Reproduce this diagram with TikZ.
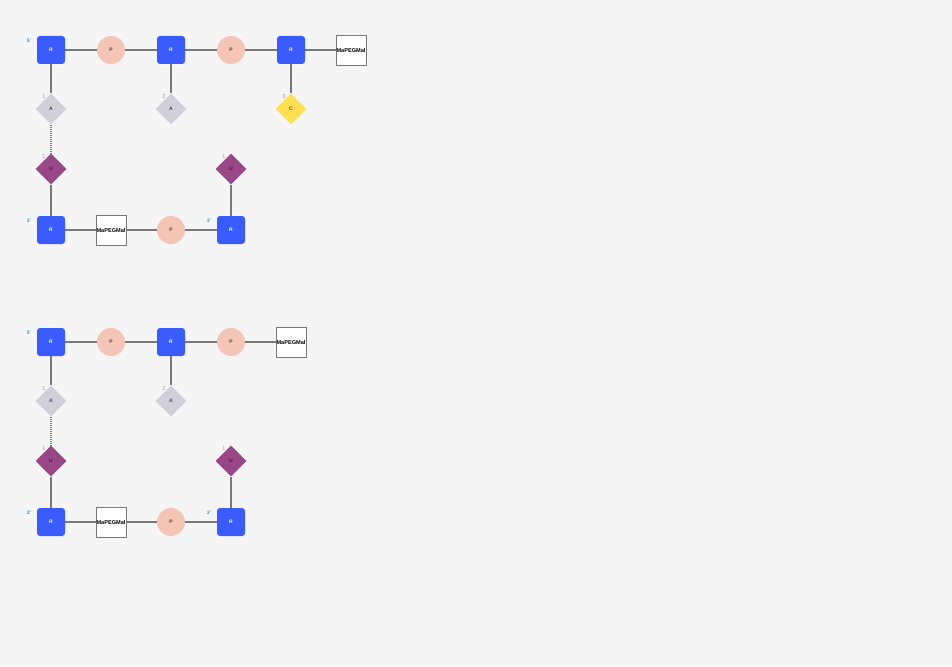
\documentclass[tikz,border=0pt]{standalone}
\usepackage{fontspec}
\setmainfont{Liberation Sans}
\usetikzlibrary{shapes.geometric}
\definecolor{PageGray}{RGB}{245,245,245}
\definecolor{RiboBlue}{RGB}{58,92,255}
\definecolor{PhosPink}{RGB}{244,196,180}
\definecolor{BaseGray}{RGB}{208,207,218}
\definecolor{BaseYellow}{RGB}{255,224,80}
\definecolor{BasePurple}{RGB}{154,71,136}
\definecolor{BondGray}{RGB}{120,120,120}
\definecolor{EndTeal}{RGB}{40,160,176}
\definecolor{IdxGray}{RGB}{150,150,150}
\tikzset{
  tiny/.style={font=\fontsize{5}{6}\selectfont\bfseries},
  ribose/.style={rectangle,rounded corners=3pt,fill=RiboBlue,text=white,tiny,minimum size=28pt,inner sep=0pt},
  phos/.style={circle,fill=PhosPink,text=black!70,tiny,minimum size=28pt,inner sep=0pt},
  linker/.style={rectangle,draw=BondGray,thick,fill=white,text=black,font=\fontsize{5.6}{6}\selectfont\bfseries,minimum size=30pt,inner sep=0pt},
  base/.style={diamond,aspect=1,text=black!70,tiny,minimum size=31pt,inner sep=0pt},
  baseA/.style={base,fill=BaseGray},
  baseC/.style={base,fill=BaseYellow},
  baseU/.style={base,fill=BasePurple,text=black!85},
  idx/.style={font=\fontsize{5.5}{6}\selectfont,text=IdxGray,inner sep=0pt},
  endlbl/.style={font=\fontsize{5}{6}\selectfont\bfseries,text=EndTeal,inner sep=0pt},
  bond/.style={draw=BondGray,line width=1.1pt},
  dotbond/.style={draw=BondGray,line width=1.1pt,dash pattern=on 1pt off 1pt}
}
\begin{document}
\begin{tikzpicture}[x=1pt,y=-1pt]
  \fill[PageGray] (0,0) rectangle (952,666);
  \useasboundingbox (0,0) rectangle (952,666);
  % first strand pair
  \draw[bond] (51,50) -- (351,50);
  \node[ribose] (r1) at (51,50) {R};
  \node[phos] (p1) at (111,50) {P};
  \node[ribose] (r2) at (171,50) {R};
  \node[phos] (p2) at (231,50) {P};
  \node[ribose] (r3) at (291,50) {R};
  \node[linker] (l1) at (351,50) {MaPEGMal};
  \node[baseA] (a1) at (51,109) {A};
  \node[baseA] (a2) at (171,109) {A};
  \node[baseC] (c3) at (291,109) {C};
  \node[baseU] (u1) at (51,169) {U};
  \node[baseU] (u2) at (231,169) {U};
  \node[ribose] (r4) at (51,230) {R};
  \node[linker] (l2) at (111,230) {MaPEGMal};
  \node[phos] (p3) at (171,230) {P};
  \node[ribose] (r5) at (231,230) {R};
  \draw[bond] (r1) -- (a1);
  \draw[bond] (r2) -- (a2);
  \draw[bond] (r3) -- (c3);
  \draw[dotbond] (a1) -- (u1);
  \draw[bond] (u1) -- (r4);
  \draw[bond] (u2) -- (r5);
  \draw[bond] (r4) -- (l2);
  \draw[bond] (l2) -- (p3);
  \draw[bond] (p3) -- (r5);
  \node[endlbl] (e1) at (29,41) {5'};
  \node[endlbl] (e2) at (29,221) {3'};
  \node[endlbl] (e3) at (209,221) {3'};
  \node[idx] at (44,97) {1};
  \node[idx] at (164,97) {2};
  \node[idx] at (284,97) {3};
  \node[idx] at (44,157) {1};
  \node[idx] at (224,157) {1};
  % second strand pair
  \draw[bond] (51,342) -- (291,342);
  \node[ribose] (br1) at (51,342) {R};
  \node[phos] (bp1) at (111,342) {P};
  \node[ribose] (br2) at (171,342) {R};
  \node[phos] (bp2) at (231,342) {P};
  \node[linker] (bl1) at (291,342) {MaPEGMal};
  \node[baseA] (ba1) at (51,401) {A};
  \node[baseA] (ba2) at (171,401) {A};
  \node[baseU] (bu1) at (51,461) {U};
  \node[baseU] (bu2) at (231,461) {U};
  \node[ribose] (br4) at (51,522) {R};
  \node[linker] (bl2) at (111,522) {MaPEGMal};
  \node[phos] (bp3) at (171,522) {P};
  \node[ribose] (br5) at (231,522) {R};
  \draw[bond] (br1) -- (ba1);
  \draw[bond] (br2) -- (ba2);
  \draw[dotbond] (ba1) -- (bu1);
  \draw[bond] (bu1) -- (br4);
  \draw[bond] (bu2) -- (br5);
  \draw[bond] (br4) -- (bl2);
  \draw[bond] (bl2) -- (bp3);
  \draw[bond] (bp3) -- (br5);
  \node[endlbl] (be1) at (29,333) {5'};
  \node[endlbl] (be2) at (29,513) {3'};
  \node[endlbl] (be3) at (209,513) {3'};
  \node[idx] at (44,389) {1};
  \node[idx] at (164,389) {2};
  \node[idx] at (44,449) {1};
  \node[idx] at (224,449) {1};
\end{tikzpicture}
\end{document}
